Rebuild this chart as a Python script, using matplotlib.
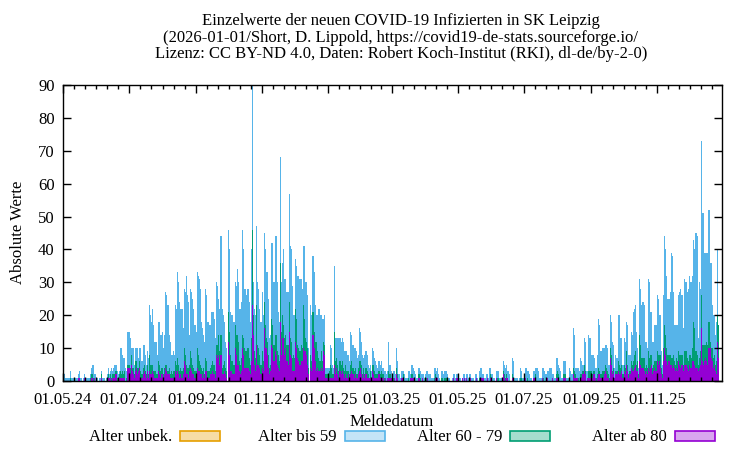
import numpy as np
import matplotlib
matplotlib.use('Agg')
import matplotlib.pyplot as plt
import matplotlib.dates as mdates
from matplotlib.patches import Rectangle

plt.rcParams['font.family'] = ['Liberation Serif', 'DejaVu Serif']
plt.rcParams['font.size'] = 12

# Meldedatum of the first value, one value per day after that
start_date = '2024-05-01'

# daily totals (all ages), 10 days per row
gesamt = [
    1, 2, 1, 1, 1, 1, 1, 3, 1, 1,
    1, 0, 1, 1, 2, 3, 1, 1, 0, 1,
    2, 1, 1, 1, 1, 2, 4, 5, 5, 2,
    2, 1, 1, 0, 1, 1, 3, 1, 1, 0,
    1, 2, 4, 2, 3, 4, 3, 4, 5, 5,
    3, 2, 3, 10, 10, 8, 7, 7, 4, 3,
    15, 15, 13, 10, 10, 10, 5, 10, 10, 10,
    7, 10, 10, 6, 11, 11, 8, 5, 9, 7,
    23, 20, 18, 22, 17, 12, 12, 8, 18, 18,
    14, 14, 15, 10, 14, 27, 26, 23, 14, 12,
    8, 8, 9, 8, 23, 22, 33, 30, 24, 22,
    22, 16, 28, 27, 32, 26, 24, 14, 28, 27,
    25, 22, 17, 15, 33, 32, 31, 28, 18, 16,
    14, 12, 28, 26, 18, 17, 17, 21, 21, 21,
    19, 13, 30, 29, 25, 22, 44, 22, 20, 18,
    12, 10, 0, 46, 40, 21, 20, 20, 18, 30,
    29, 34, 30, 22, 22, 24, 46, 40, 28, 28,
    26, 28, 24, 18, 40, 90, 30, 22, 20, 47,
    30, 28, 22, 18, 27, 20, 45, 40, 33, 33,
    25, 13, 14, 42, 42, 30, 44, 44, 30, 21,
    18, 68, 30, 36, 40, 31, 31, 27, 27, 57,
    41, 40, 29, 20, 20, 37, 35, 32, 32, 31,
    31, 28, 41, 41, 30, 30, 26, 10, 0, 23,
    20, 38, 33, 23, 20, 20, 22, 22, 20, 20,
    19, 19, 20, 4, 4, 4, 4, 11, 10, 5,
    4, 35, 13, 13, 13, 13, 13, 12, 13, 12,
    9, 9, 9, 8, 8, 6, 15, 14, 11, 10,
    10, 9, 7, 8, 16, 15, 12, 8, 7, 8,
    9, 8, 5, 4, 5, 3, 10, 9, 7, 6,
    5, 4, 6, 5, 6, 4, 4, 3, 3, 2,
    3, 12, 5, 5, 3, 3, 3, 2, 10, 6,
    2, 2, 1, 3, 3, 3, 2, 1, 1, 3,
    3, 2, 5, 5, 4, 3, 2, 1, 1, 4,
    3, 2, 2, 2, 1, 2, 3, 3, 2, 2,
    2, 1, 1, 4, 4, 3, 4, 2, 1, 0,
    3, 3, 2, 3, 3, 2, 1, 1, 0, 0,
    1, 2, 2, 1, 2, 2, 1, 1, 0, 1,
    2, 2, 1, 2, 2, 1, 2, 2, 1, 1,
    0, 2, 2, 1, 0, 3, 4, 4, 2, 2,
    1, 2, 2, 1, 4, 4, 2, 2, 1, 1,
    0, 3, 3, 1, 1, 1, 1, 6, 5, 4,
    5, 3, 3, 2, 0, 7, 6, 1, 1, 1,
    1, 0, 1, 4, 3, 1, 1, 4, 4, 3,
    3, 2, 1, 1, 0, 3, 3, 4, 4, 3,
    1, 1, 1, 4, 4, 3, 2, 2, 3, 3,
    4, 4, 2, 2, 1, 1, 7, 7, 5, 4,
    3, 1, 1, 6, 6, 1, 1, 1, 4, 3,
    2, 2, 16, 14, 4, 4, 4, 3, 7, 6,
    5, 5, 13, 12, 3, 3, 14, 13, 8, 8,
    8, 7, 4, 4, 8, 19, 17, 9, 9, 10,
    10, 11, 11, 10, 5, 5, 20, 18, 12, 11,
    4, 8, 7, 20, 20, 13, 13, 5, 5, 13,
    12, 18, 17, 8, 8, 15, 14, 21, 22, 23,
    15, 10, 4, 31, 28, 23, 24, 23, 12, 12,
    10, 31, 30, 21, 21, 12, 12, 17, 17, 26,
    25, 20, 20, 9, 5, 26, 44, 40, 32, 25,
    25, 27, 39, 38, 27, 17, 17, 17, 17, 26,
    27, 28, 26, 16, 31, 30, 30, 27, 28, 32,
    30, 30, 32, 43, 40, 45, 44, 13, 30, 28,
    73, 51, 51, 39, 39, 39, 39, 52, 36, 36,
    23, 20, 20, 14, 18, 40, 17,
]

alter_60_79 = [
    0, 0, 0, 0, 0, 0, 0, 1, 0, 0,
    0, 0, 0, 0, 0, 0, 0, 0, 0, 0,
    0, 0, 0, 0, 0, 1, 1, 1, 1, 0,
    0, 0, 0, 0, 0, 0, 1, 0, 0, 0,
    0, 0, 1, 0, 1, 1, 1, 1, 1, 1,
    1, 0, 1, 2, 1, 2, 1, 2, 0, 1,
    1, 1, 2, 3, 1, 2, 1, 3, 2, 2,
    1, 2, 2, 1, 2, 2, 1, 1, 2, 1,
    5, 3, 3, 2, 1, 2, 1, 1, 3, 3,
    2, 2, 2, 1, 2, 1, 2, 1, 2, 1,
    2, 1, 2, 2, 3, 3, 4, 3, 2, 2,
    2, 2, 4, 3, 3, 2, 3, 2, 5, 4,
    3, 2, 2, 2, 6, 5, 3, 3, 2, 2,
    2, 1, 4, 3, 2, 2, 2, 3, 3, 3,
    3, 2, 3, 4, 6, 4, 6, 2, 3, 3,
    2, 2, 0, 9, 7, 5, 3, 4, 3, 7,
    6, 9, 7, 3, 3, 4, 4, 5, 6, 5,
    5, 6, 4, 3, 7, 23, 6, 4, 4, 12,
    6, 5, 4, 3, 5, 3, 8, 7, 3, 4,
    4, 2, 2, 8, 7, 5, 5, 6, 4, 4,
    3, 18, 7, 7, 4, 5, 4, 5, 6, 9,
    5, 5, 4, 5, 4, 10, 9, 4, 4, 4,
    5, 4, 13, 10, 4, 4, 5, 2, 0, 4,
    3, 7, 5, 6, 9, 5, 4, 3, 3, 5,
    3, 3, 3, 1, 1, 0, 2, 4, 3, 1,
    1, 10, 4, 3, 3, 2, 3, 3, 3, 2,
    2, 3, 2, 2, 1, 1, 3, 3, 2, 2,
    2, 1, 1, 2, 3, 2, 3, 1, 2, 1,
    2, 2, 1, 0, 2, 1, 2, 3, 2, 1,
    1, 1, 1, 1, 2, 1, 1, 1, 0, 0,
    0, 2, 1, 1, 0, 1, 0, 0, 2, 1,
    0, 0, 0, 0, 0, 1, 0, 0, 0, 1,
    0, 0, 1, 1, 0, 0, 0, 0, 0, 1,
    1, 0, 0, 0, 0, 0, 1, 0, 0, 0,
    0, 0, 0, 1, 1, 0, 0, 0, 0, 0,
    1, 1, 0, 1, 1, 0, 0, 0, 0, 0,
    0, 0, 0, 0, 0, 0, 0, 0, 0, 0,
    0, 0, 0, 0, 0, 0, 0, 0, 0, 0,
    0, 0, 0, 0, 0, 1, 1, 0, 0, 0,
    0, 0, 0, 0, 0, 1, 0, 0, 0, 0,
    0, 0, 1, 0, 0, 0, 0, 1, 1, 1,
    1, 0, 0, 0, 0, 1, 1, 0, 0, 0,
    0, 0, 0, 1, 1, 0, 0, 0, 0, 1,
    0, 0, 0, 0, 0, 0, 0, 1, 0, 0,
    0, 0, 0, 0, 1, 0, 0, 0, 0, 0,
    0, 0, 0, 0, 0, 0, 1, 2, 1, 0,
    0, 0, 0, 1, 1, 0, 0, 0, 1, 0,
    0, 0, 2, 2, 1, 0, 1, 0, 1, 1,
    1, 1, 2, 1, 0, 0, 2, 2, 1, 1,
    1, 1, 0, 1, 1, 2, 1, 1, 1, 2,
    1, 2, 2, 2, 1, 1, 3, 3, 1, 1,
    0, 1, 1, 3, 3, 2, 2, 1, 1, 2,
    2, 4, 2, 1, 1, 2, 2, 3, 4, 4,
    2, 3, 1, 8, 6, 3, 3, 4, 2, 2,
    2, 5, 4, 4, 3, 2, 2, 2, 3, 3,
    3, 2, 4, 2, 1, 4, 7, 6, 4, 3,
    2, 3, 2, 3, 3, 2, 2, 3, 3, 3,
    3, 4, 3, 2, 4, 4, 4, 3, 3, 3,
    4, 3, 4, 12, 11, 5, 4, 2, 3, 4,
    10, 5, 6, 5, 4, 6, 6, 8, 2, 3,
    4, 3, 3, 2, 4, 8, 10,
]

alter_ab_80 = [
    1, 0, 0, 0, 0, 0, 0, 0, 0, 0,
    0, 0, 0, 0, 1, 1, 0, 0, 0, 0,
    1, 0, 0, 0, 0, 0, 1, 1, 0, 1,
    0, 0, 0, 0, 0, 0, 1, 0, 0, 0,
    0, 1, 1, 1, 1, 0, 1, 1, 1, 2,
    0, 0, 1, 1, 1, 1, 1, 1, 0, 0,
    4, 4, 2, 5, 3, 2, 1, 3, 4, 2,
    3, 4, 1, 1, 2, 3, 2, 1, 3, 1,
    3, 2, 2, 3, 2, 1, 1, 1, 3, 2,
    1, 2, 2, 1, 2, 4, 3, 2, 2, 1,
    1, 1, 1, 1, 3, 2, 3, 2, 1, 2,
    1, 2, 6, 5, 2, 2, 1, 3, 4, 3,
    2, 2, 1, 1, 4, 3, 3, 2, 2, 1,
    2, 1, 3, 3, 1, 1, 2, 2, 3, 2,
    2, 1, 8, 7, 8, 5, 8, 2, 2, 3,
    2, 1, 0, 12, 8, 3, 3, 2, 2, 10,
    8, 5, 5, 3, 2, 3, 10, 8, 4, 4,
    4, 4, 3, 2, 6, 23, 14, 5, 3, 11,
    5, 5, 4, 2, 4, 3, 16, 10, 10, 8,
    4, 2, 3, 11, 10, 6, 9, 8, 5, 4,
    3, 18, 8, 13, 13, 8, 10, 6, 5, 15,
    8, 7, 3, 3, 3, 12, 10, 7, 6, 5,
    6, 6, 10, 9, 9, 8, 5, 2, 0, 4,
    3, 14, 10, 6, 3, 4, 3, 3, 3, 4,
    3, 9, 8, 1, 1, 2, 1, 1, 1, 1,
    1, 5, 2, 4, 2, 1, 3, 2, 3, 2,
    1, 2, 1, 1, 2, 1, 2, 3, 2, 1,
    2, 1, 1, 2, 3, 4, 2, 1, 2, 1,
    2, 1, 1, 1, 1, 0, 3, 2, 1, 1,
    1, 1, 2, 1, 1, 1, 1, 0, 1, 0,
    1, 1, 1, 1, 1, 0, 1, 0, 2, 1,
    0, 0, 0, 1, 1, 1, 0, 0, 0, 0,
    0, 1, 1, 1, 1, 0, 0, 0, 0, 1,
    0, 0, 1, 0, 0, 0, 0, 1, 0, 0,
    0, 0, 0, 0, 1, 1, 1, 0, 0, 0,
    0, 0, 0, 0, 0, 0, 0, 0, 0, 0,
    0, 1, 0, 0, 1, 1, 0, 0, 0, 1,
    0, 1, 0, 1, 0, 0, 1, 1, 0, 0,
    0, 0, 1, 0, 0, 0, 0, 1, 1, 1,
    0, 0, 1, 0, 0, 1, 0, 0, 0, 0,
    0, 1, 0, 0, 0, 0, 0, 2, 1, 0,
    1, 1, 0, 0, 0, 1, 0, 0, 0, 0,
    0, 0, 0, 0, 0, 0, 0, 1, 0, 0,
    0, 0, 0, 0, 0, 1, 1, 1, 0, 0,
    0, 0, 0, 1, 0, 0, 0, 0, 1, 0,
    0, 0, 1, 0, 0, 0, 1, 1, 1, 0,
    0, 0, 0, 1, 1, 0, 0, 0, 0, 0,
    0, 0, 2, 1, 1, 1, 0, 0, 1, 1,
    2, 2, 3, 2, 0, 1, 1, 1, 2, 1,
    2, 2, 1, 0, 1, 2, 2, 1, 1, 1,
    2, 3, 2, 1, 1, 0, 7, 5, 2, 3,
    1, 2, 2, 3, 2, 2, 3, 1, 1, 3,
    2, 5, 3, 1, 2, 4, 3, 3, 4, 5,
    3, 3, 1, 6, 5, 4, 4, 3, 2, 3,
    2, 4, 3, 4, 5, 2, 3, 4, 3, 6,
    5, 6, 4, 2, 1, 6, 10, 8, 6, 5,
    6, 5, 5, 4, 5, 4, 3, 4, 3, 6,
    5, 4, 5, 3, 5, 5, 5, 4, 3, 5,
    4, 4, 6, 6, 5, 4, 4, 3, 4, 5,
    16, 6, 5, 6, 7, 6, 5, 10, 10, 7,
    6, 4, 5, 3, 2, 12, 7,
]

legend_labels = ['Alter unbek.', 'Alter bis 59', 'Alter 60 - 79', 'Alter ab 80']
colors = ['#e69f00', '#56b4e9', '#009e73', '#9400d3']

title_lines = [
    'Einzelwerte der neuen COVID-19 Infizierten in SK Leipzig',
    '(2026-01-01/Short, D. Lippold, https://covid19-de-stats.sourceforge.io/',
    'Lizenz: CC BY-ND 4.0, Daten: Robert Koch-Institut (RKI), dl-de/by-2-0)',
]

gesamt = np.array(gesamt)
alt = np.array(alter_60_79)
sehr_alt = np.array(alter_ab_80)
assert len(gesamt) == len(alt) == len(sehr_alt)
bis_59 = gesamt - alt - sehr_alt

days = np.datetime64(start_date) + np.arange(len(gesamt))
x = mdates.date2num(days)

fig = plt.figure(figsize=(7.5, 4.5), dpi=100)
ax = fig.add_axes([63 / 750, 1 - 381 / 450, (722 - 63) / 750, (381 - 85) / 450])

# stacked bars: 80+ at the bottom, then 60-79, then under 60
# antialiasing off so the 1-px-wide day bars stay solid
ax.bar(x, sehr_alt, width=1.0, color=colors[3], linewidth=0, antialiased=False)
ax.bar(x, alt, width=1.0, bottom=sehr_alt, color=colors[2], linewidth=0, antialiased=False)
ax.bar(x, bis_59, width=1.0, bottom=sehr_alt + alt, color=colors[1], linewidth=0,
       antialiased=False)

x0 = mdates.date2num(np.datetime64('2024-05-01'))
x1 = mdates.date2num(np.datetime64('2025-12-31'))
ax.set_xlim(x0, x1)
ax.set_ylim(0, 90)
ax.set_yticks(np.arange(0, 91, 10))

ax.xaxis.set_major_locator(mdates.MonthLocator(bymonth=[1, 3, 5, 7, 9, 11]))
ax.xaxis.set_major_formatter(mdates.DateFormatter('%d.%m.%y'))
# six minor steps per two-month interval
majors = mdates.date2num(np.arange(np.datetime64('2024-05'), np.datetime64('2026-03'),
                                   np.timedelta64(2, 'M')).astype('datetime64[D]'))
minors = []
for a, b in zip(majors[:-1], majors[1:]):
    minors.extend(np.linspace(a, b, 7)[1:-1])
ax.set_xticks([m for m in minors if m < x1], minor=True)

ax.tick_params(which='both', direction='in', top=True, right=True, width=1, colors='black')
ax.tick_params(which='major', length=6, labelsize=12)
ax.tick_params(axis='x', which='major', pad=8)
ax.tick_params(axis='y', which='major', pad=6)
ax.tick_params(which='minor', length=3)
for s in ax.spines.values():
    s.set_linewidth(1)

# titles and axis labels
for i, line in enumerate(title_lines):
    fig.text(401 / 750, 1 - (21 + 16.5 * i) / 450, line, ha='center', va='center', fontsize=12)
fig.text(18 / 750, 1 - 232 / 450, 'Absolute Werte', rotation=90, ha='center', va='center', fontsize=12)
fig.text(392 / 750, 1 - 422 / 450, 'Meldedatum', ha='center', va='center', fontsize=12)

# legend in one row below the plot, text left of the box
for i, (lab, c) in enumerate(zip(legend_labels, colors)):
    xr = 172 + 165 * i
    fig.text(xr / 750, 1 - 437 / 450, lab, ha='right', va='center', fontsize=12)
    fig.patches.append(Rectangle(((xr + 8) / 750, 1 - 441 / 450), 40 / 750, 10 / 450,
                                 transform=fig.transFigure, facecolor=c, alpha=0.35,
                                 edgecolor='none'))
    fig.patches.append(Rectangle(((xr + 8) / 750, 1 - 441 / 450), 40 / 750, 10 / 450,
                                 transform=fig.transFigure, facecolor='none',
                                 edgecolor=c, linewidth=1.2))

fig.savefig('out.png', dpi=100)
